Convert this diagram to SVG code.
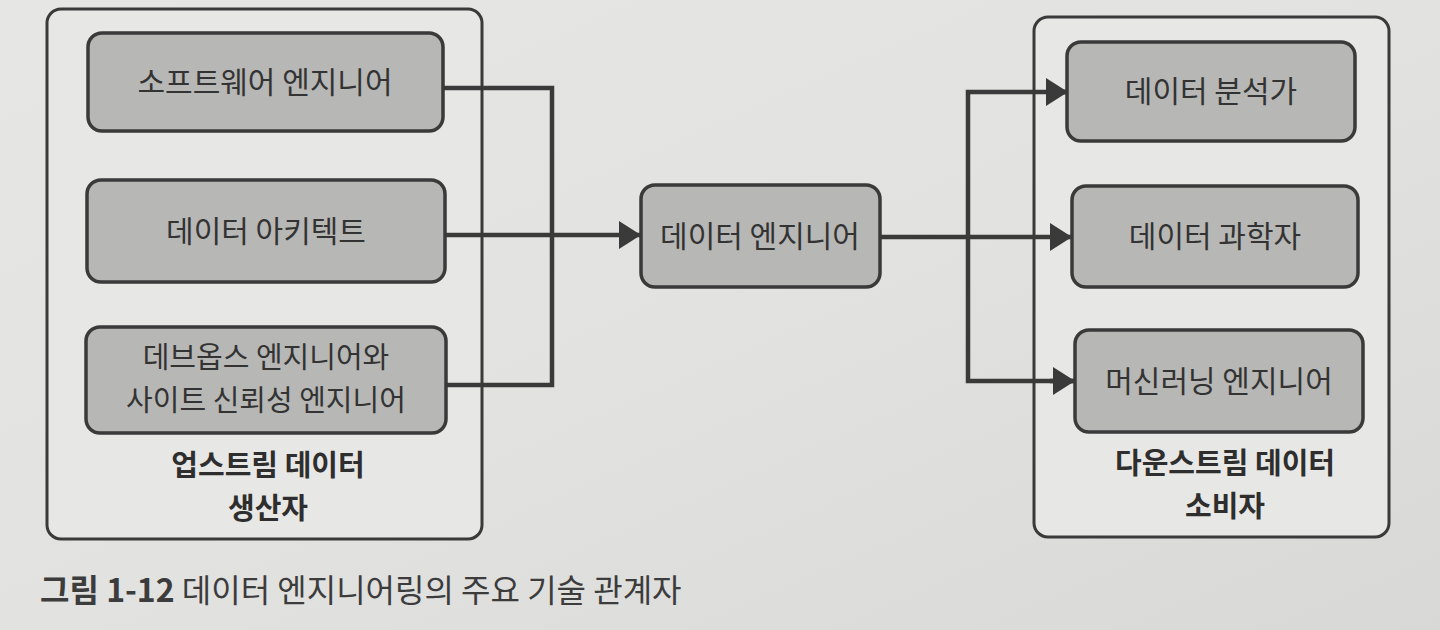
<svg xmlns="http://www.w3.org/2000/svg" width="1440" height="630" viewBox="0 0 1440 630">
  <defs>
    <linearGradient id="bg" x1="0" y1="0" x2="1" y2="1">
      <stop offset="0" stop-color="#e6e6e4"/>
      <stop offset="0.5" stop-color="#e2e2e0"/>
      <stop offset="1" stop-color="#d8d8d6"/>
    </linearGradient>
    <marker id="arr" viewBox="0 0 22 28" refX="21" refY="14" markerWidth="22" markerHeight="28" markerUnits="userSpaceOnUse" orient="auto">
      <path d="M0,0 L22,14 L0,28 Z" fill="#3a3a3a"/>
    </marker>
    <style>
      .container { fill: #e7e7e5; stroke: #3a3a3a; stroke-width: 3; }
      .box { fill: #b7b7b5; stroke: #3a3a3a; stroke-width: 3.5; }
      .lbl { font-family: "Noto Sans CJK KR", "Noto Sans", sans-serif; font-size: 30px; fill: #333333; text-anchor: middle; }
      .lbl2 { font-family: "Noto Sans CJK KR", "Noto Sans", sans-serif; font-size: 29px; fill: #333333; text-anchor: middle; }
      .grp { font-family: "Noto Sans CJK KR", "Noto Sans", sans-serif; font-size: 29px; font-weight: bold; fill: #2e2e2e; text-anchor: middle; }
      .conn { fill: none; stroke: #3a3a3a; stroke-width: 4.5; }
      .cap { font-family: "Noto Sans CJK KR", "Noto Sans", sans-serif; font-size: 32px; fill: #3c3c3c; }
    </style>
  </defs>
  <rect x="0" y="0" width="1440" height="630" fill="url(#bg)"/>

  <g id="upstream">
    <rect class="container" x="47" y="9" width="435" height="530" rx="14"/>
    <text class="grp" x="268" y="476">업스트림 데이터</text>
    <text class="grp" x="268" y="519">생산자</text>
  </g>
  <g id="downstream">
    <rect class="container" x="1034" y="17" width="355" height="520" rx="14"/>
    <text class="grp" x="1225" y="474">다운스트림 데이터</text>
    <text class="grp" x="1225" y="517">소비자</text>
  </g>

  <g id="connectors">
    <path class="conn" d="M443,88 H552 V385 H446"/>
    <path class="conn" d="M445,235 H640" marker-end="url(#arr)"/>
    <path class="conn" d="M880,237 H1071" marker-end="url(#arr)"/>
    <path class="conn" d="M1067,92 H968 V381 H1074"/>
    <path class="conn" d="M1050,92 H1067" marker-end="url(#arr)"/>
    <path class="conn" d="M1050,381 H1074" marker-end="url(#arr)"/>
  </g>

  <g id="software-engineer">
    <rect class="box" x="88" y="33" width="355" height="98" rx="14"/>
    <text class="lbl" x="265" y="93">소프트웨어 엔지니어</text>
  </g>
  <g id="data-architect">
    <rect class="box" x="87" y="180" width="358" height="102" rx="14"/>
    <text class="lbl" x="266" y="242">데이터 아키텍트</text>
  </g>
  <g id="devops-sre">
    <rect class="box" x="86" y="327" width="360" height="106" rx="14"/>
    <text class="lbl2" x="266" y="368">데브옵스 엔지니어와</text>
    <text class="lbl2" x="266" y="411">사이트 신뢰성 엔지니어</text>
  </g>
  <g id="data-engineer">
    <rect class="box" x="641" y="185" width="239" height="102" rx="14"/>
    <text class="lbl" x="760" y="247">데이터 엔지니어</text>
  </g>
  <g id="data-analyst">
    <rect class="box" x="1067" y="42" width="288" height="99" rx="14"/>
    <text class="lbl" x="1211" y="102">데이터 분석가</text>
  </g>
  <g id="data-scientist">
    <rect class="box" x="1072" y="186" width="286" height="101" rx="14"/>
    <text class="lbl" x="1215" y="247">데이터 과학자</text>
  </g>
  <g id="ml-engineer">
    <rect class="box" x="1075" y="330" width="288" height="102" rx="14"/>
    <text class="lbl" x="1219" y="392">머신러닝 엔지니어</text>
  </g>

  <text class="cap" x="40" y="602"><tspan font-weight="bold">그림 1-12</tspan> 데이터 엔지니어링의 주요 기술 관계자</text>
</svg>
